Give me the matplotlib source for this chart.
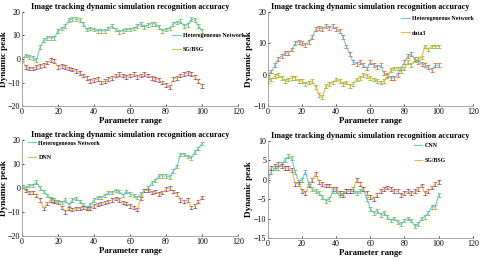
import numpy as np
import matplotlib
matplotlib.use("Agg")
import matplotlib.pyplot as plt

plt.rcParams['font.family'] = ['Liberation Serif', 'DejaVu Serif']
plt.rcParams['font.weight'] = 'bold'

x = np.arange(0, 101, 2)

# top-left
tl_het = [0, 1.5, 1, 0.5, -0.5, 5, 8, 9, 9, 9, 12, 13, 14, 16.5, 17, 17, 16.5, 15, 12.5, 13,
          12.5, 12, 12, 12, 13, 14, 12.5, 11.5, 12, 12.5, 12.5, 13, 14, 15, 13.5, 14.5, 15, 15,
          13.5, 12, 12.5, 13, 15, 15.5, 16, 14, 14.5, 17, 16.5, 14, 12]
tl_sg = [0, -3.5, -4, -4, -3.5, -3, -2.5, -1.5, -0.5, -1, -3.5, -3, -3.5, -4, -4.5, -5, -6, -7,
         -8, -9.5, -9, -8.5, -10, -9.5, -8.5, -8, -7, -6.5, -7, -7.5, -7, -6.5, -7.5, -7, -6.5,
         -7, -8, -8.5, -9, -10, -11, -12, -8.5, -8, -7, -6.5, -6, -6.5, -7.5, -9.5, -11.5]

# top-right
tr_het = [0, 1, 3, 5, 6, 7, 7, 8, 10, 10.5, 10, 9.5, 10.5, 12, 14.5, 15, 14.5, 15.5, 15, 15.5,
          14.5, 14, 12, 9, 6.5, 4, 3.5, 4, 3, 2, 4, 3, 2.5, 3, 0.5, 0, -1, -1, 0, 2, 4, 6, 6.5,
          5, 4, 3.5, 3, 2.5, 1.5, 3, 3]
tr_d3 = [-2, -1.5, -0.5, 0, -1, -2, -1.5, -1, -1, -2, -2, -3, -2.5, -2, -4, -6.5, -7, -3.5, -3,
         -2.5, -1.5, -2, -3, -2.5, -3.5, -3, -1.5, -1, 0, -0.5, -1, -1.5, -2, -2.5, -2, -0.5,
         1.5, 2, 2, 1, 2, 4, 3, 4.5, 5, 5.5, 9, 8, 9, 9, 9]

# bottom-left
bl_het = [0.5, 0, 1, 1, 2.5, 0, -1.5, -3, -4.5, -5, -5.5, -6, -5, -7, -5, -4.5, -5.5, -7, -8,
          -7, -5, -4, -4, -3, -2, -2, -1, -1.5, -3, -1.5, -2.5, -3, -4, -2.5, -1, 0, 2, 3, 5, 5,
          5, 4.5, 7, 9, 14, 14, 13, 12.5, 15, 16.5, 18.5]
bl_dnn = [0.5, -1, -2, -2, -3, -5, -8.5, -6.5, -5, -5.5, -6, -8, -10, -8.5, -9, -8.5, -8.5, -8,
          -8.5, -8.5, -7.5, -7, -6.5, -6, -5.5, -5, -4.5, -5, -6, -6.5, -7.5, -8, -9, -4.5, -1,
          -1, -2, -1.5, -2.5, -2, -0.5, 0, -1.5, -2.5, -5, -5.5, -5, -8, -7.5, -5.5, -4]

# bottom-right
br_cnn = [0, 2, 3, 3, 4, 5, 6, 5.5, 2, -0.5, 0, 2, -1, -2.5, -3, -3.5, -4.5, -5.5, -5, -3, -3,
          -4, -3.5, -3, -3, -3, -3.5, -3, -2.5, -5, -7.5, -8.5, -8, -9, -8.5, -9.5, -10.5, -10,
          -11, -11.5, -10.5, -10, -10.5, -12, -11.5, -10, -9.5, -8.5, -7, -7, -4]
br_sg = [2, 3, 3.5, 4, 3.5, 3, 3, 2.5, -1, -1, -3, -3.5, -1.5, 0, 1.5, -0.5, -1, -1.5, -1.5,
         -2.5, -2.5, -3.5, -4, -3, -3, -2.5, 0, -1, -2.5, -3.5, -4.5, -5, -4, -3, -2.5, -2,
         -2.5, -3, -3, -4, -3.5, -3, -3.5, -3, -2.5, -1.5, -3.5, -3, -2, -1, -0.5]

err_tl, err_tr, err_bl, err_br = 0.8, 0.6, 0.7, 0.5

blue = '#4DBEEE'
yellow = '#EDB120'
green = '#77AC30'
purple = '#7E2F8E'
orange = '#D95319'

title = 'Image tracking dynamic simulation recognition accuracy'

fig = plt.figure(figsize=(4.8, 2.6), dpi=100)

panels = [
    ([0.046, 0.592, 0.450, 0.362], tl_het, tl_sg, err_tl, ('Heterogeneous Network', 'SG/BSG'),
     (green, purple), (-20, 20), [-20, -10, 0, 10, 20], (0.685, 0.80)),
    ([0.558, 0.592, 0.427, 0.362], tr_het, tr_d3, err_tr, ('Heterogeneous Network', 'data3'),
     (orange, green), (-10, 20), [-10, 0, 10, 20], (0.64, 0.98)),
    ([0.046, 0.092, 0.450, 0.370], bl_het, bl_dnn, err_bl, ('Heterogeneous Network', 'DNN'),
     (green, purple), (-20, 20), [-20, -10, 0, 10, 20], (0.015, 1.02)),
    ([0.558, 0.085, 0.427, 0.373], br_cnn, br_sg, err_br, ('CNN', 'SG/BSG'),
     (green, purple), (-15, 10), [-15, -10, -5, 0, 5, 10], (0.70, 1.00)),
]

for rect, s1, s2, err, labels, ecols, ylim, yticks, lpos in panels:
    ax = fig.add_axes(rect)
    ax.errorbar(x, s1, yerr=err, fmt='none', ecolor=ecols[0], elinewidth=0.6,
                capsize=1.5, capthick=0.6, alpha=0.8)
    ax.errorbar(x, s2, yerr=err, fmt='none', ecolor=ecols[1], elinewidth=0.6,
                capsize=1.5, capthick=0.6, alpha=0.8)
    ax.plot(x, s1, color=blue, lw=0.8, alpha=0.85, label=labels[0])
    ax.plot(x, s2, color=yellow, lw=0.8, alpha=0.85, label=labels[1])
    ax.set_xlim(0, 120)
    ax.set_ylim(*ylim)
    ax.set_xticks([0, 20, 40, 60, 80, 100, 120])
    ax.set_yticks(yticks)
    ax.tick_params(labelsize=5.8, length=1.5, width=0.5, direction='in', pad=1.2)
    for t in ax.get_xticklabels() + ax.get_yticklabels():
        t.set_fontweight('normal')
    for side in ['top', 'right']:
        ax.spines[side].set_visible(False)
    for side in ['left', 'bottom']:
        ax.spines[side].set_color('#999999')
        ax.spines[side].set_linewidth(0.6)
    ax.set_title(title, fontsize=5.9, fontweight='bold', pad=2)
    ax.set_xlabel('Parameter range', fontsize=6.3, fontweight='bold', labelpad=1)
    ax.set_ylabel('Dynamic peak', fontsize=6.6, fontweight='bold', labelpad=0.3)
    ax.legend(loc='upper left', bbox_to_anchor=lpos, frameon=False, fontsize=4.3,
              handlelength=1.4, labelspacing=1.5, handletextpad=0.4, borderaxespad=0)

fig.savefig('out.png', dpi=100)
